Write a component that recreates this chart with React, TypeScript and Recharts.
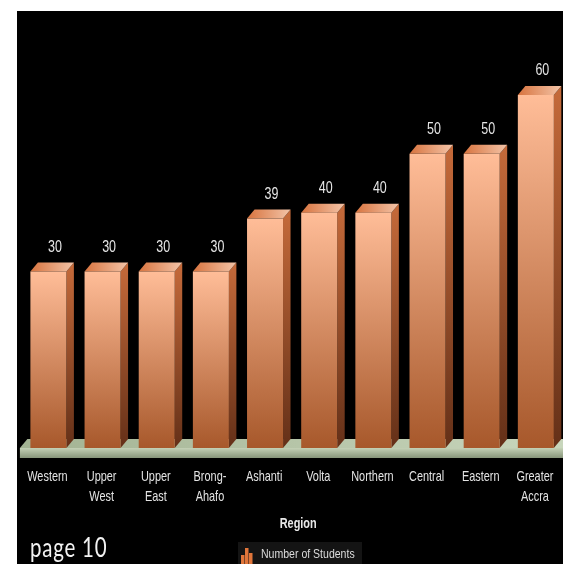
import { BarChart, Bar, XAxis, YAxis, LabelList, Legend, ReferenceArea } from "recharts";

const regions = ["Western", "Upper West", "Upper East", "Brong-Ahafo", "Ashanti", "Volta", "Northern", "Central", "Eastern", "Greater Accra"];
const students = [30, 30, 30, 30, 39, 40, 40, 50, 50, 60];
const seriesName = "Number of Students";
const legendIconHeights = [9, 16, 11];

const data = regions.map((region, i) => ({ region, students: students[i] }));

const FONT = '"Liberation Sans", sans-serif';
const SQUEEZE = 0.78; // no condensed font installed, so squeeze the text
const DEPTH_X = 7.5;
const DEPTH_Y = 9;

// 3d look: front face, side face and top face
function Bar3D(props: any) {
  const { x, y, width, height } = props;
  const r = x + width;
  const b = y + height;
  return (
    <g>
      <path d={`M${r},${y} L${r + DEPTH_X},${y - DEPTH_Y} L${r + DEPTH_X},${b - DEPTH_Y} L${r},${b} Z`} fill="url(#barSide)" />
      <path d={`M${x},${y} L${x + DEPTH_X},${y - DEPTH_Y} L${r + DEPTH_X},${y - DEPTH_Y} L${r},${y} Z`} fill="url(#barTop)" />
      <rect x={x} y={y} width={width} height={height} fill="url(#barFront)" />
    </g>
  );
}

function Floor(props: any) {
  const { x, y, width, height } = props;
  const b = y + height;
  return (
    <g>
      <path d={`M${x - 1.5},${b} L${x + 6},${y} L${x + width},${y} L${x + width},${b} Z`} fill="url(#floorTop)" />
      <rect x={x - 1.5} y={b} width={width + 1.5} height={10} fill="url(#floorFront)" />
    </g>
  );
}

function RegionTick(props: any) {
  const { x, y, payload } = props;
  const lines = String(payload.value).replace("-", "- ").split(" ");
  return (
    <g transform={`translate(${x - 1},${y}) scale(${SQUEEZE},1)`}>
      <text x={0} y={0} textAnchor="middle" fill="#e4e4e4" fontFamily={FONT} fontSize={14}>
        {lines.map((line, i) => (
          <tspan key={i} x={0} dy={i === 0 ? 19 : 20}>
            {line}
          </tspan>
        ))}
      </text>
    </g>
  );
}

function ValueLabel(props: any) {
  const { x, y, width, value } = props;
  return (
    <g transform={`translate(${x + width / 2 + 6.5},${y - 20}) scale(${SQUEEZE},1)`}>
      <text x={0} y={0} textAnchor="middle" fill="#e6e6e6" fontFamily={FONT} fontSize={16}>
        {value}
      </text>
    </g>
  );
}

function AxisTitle(props: any) {
  const { viewBox } = props;
  return (
    <g transform={`translate(${viewBox.x + viewBox.width / 2 + 6},${viewBox.y + 80}) scale(${SQUEEZE},1)`}>
      <text x={0} y={0} textAnchor="middle" fill="#e8e8e8" fontFamily={FONT} fontSize={14} fontWeight={700}>
        Region
      </text>
    </g>
  );
}

function LegendBox() {
  return (
    <div style={{ display: "flex", alignItems: "center", width: 124, height: 22, marginLeft: 238, background: "#141414", color: "#dcdcdc", fontFamily: FONT, fontSize: 13.5 }}>
      <svg width={22} height={22} style={{ marginLeft: 1, flex: "none" }}>
        {legendIconHeights.map((h, i) => (
          <rect key={i} x={2 + i * 4} y={22 - h} width={3.5} height={h} fill="#e0753a" />
        ))}
      </svg>
      <span style={{ whiteSpace: "nowrap", transform: `scaleX(${SQUEEZE})`, transformOrigin: "left center" }}>{seriesName}</span>
    </div>
  );
}

export default function App() {
  return (
    <div style={{ position: "absolute", left: 0, top: 0, width: 563, height: 564, background: "#fff", overflow: "hidden" }}>
      <div style={{ position: "absolute", left: 17, top: 11, width: 546, height: 553, background: "#000" }} />
      <div style={{ position: "absolute", left: 0, top: 0, filter: "blur(0.4px)" }}>
        <BarChart width={563} height={564} data={data} barSize={36} margin={{ top: 95, right: 0, bottom: 0, left: 21.4 }}>
          <defs>
            <linearGradient id="barFront" x1="0" y1="0" x2="0" y2="1">
              <stop offset="0%" stopColor="#ffbd98" />
              <stop offset="100%" stopColor="#a7582b" />
            </linearGradient>
            <linearGradient id="barSide" x1="0" y1="0" x2="0" y2="1">
              <stop offset="0%" stopColor="#c56a3a" />
              <stop offset="100%" stopColor="#643018" />
            </linearGradient>
            <linearGradient id="barTop" x1="0" y1="0" x2="1" y2="0">
              <stop offset="0%" stopColor="#d8743f" />
              <stop offset="100%" stopColor="#f3c4a8" />
            </linearGradient>
            <linearGradient id="floorTop" x1="0" y1="0" x2="1" y2="0">
              <stop offset="0%" stopColor="#a3b393" />
              <stop offset="100%" stopColor="#c8d6bc" />
            </linearGradient>
            <linearGradient id="floorFront" x1="0" y1="0" x2="0" y2="1">
              <stop offset="0%" stopColor="#c4d1b6" />
              <stop offset="100%" stopColor="#87957a" />
            </linearGradient>
          </defs>
          <XAxis
            dataKey="region"
            interval={0}
            height={94}
            axisLine={false}
            tickLine={false}
            tick={<RegionTick />}
            tickMargin={8}
            label={<AxisTitle />}
          />
          <YAxis hide domain={[0, 60]} />
          <ReferenceArea y1={0} y2={1.53} ifOverflow="visible" shape={<Floor />} />
          <Legend verticalAlign="bottom" align="left" content={<LegendBox />} wrapperStyle={{ left: 0, bottom: 0 }} />
          <Bar dataKey="students" name={seriesName} shape={<Bar3D />} isAnimationActive={false}>
            <LabelList dataKey="students" content={<ValueLabel />} />
          </Bar>
        </BarChart>
      </div>
      <div style={{ position: "absolute", left: 30, top: 530, color: "#f2f2f2", fontFamily: "Lato, sans-serif", fontWeight: 400, fontSize: 27, letterSpacing: 1, whiteSpace: "nowrap", transform: "scaleX(0.76)", transformOrigin: "left center" }}>
        page 10
      </div>
    </div>
  );
}
